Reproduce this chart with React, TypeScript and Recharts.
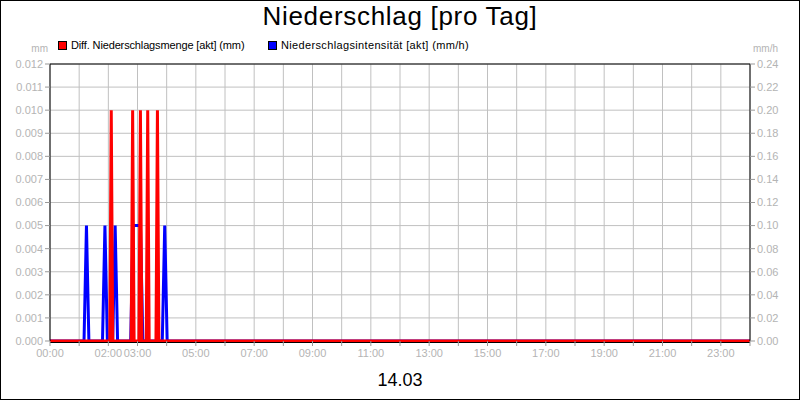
import { ComposedChart, Line, XAxis, YAxis, CartesianGrid, ReferenceLine } from "recharts";

// Diff. Niederschlagsmenge [akt] (mm) – minutes since 00:00 / value
const mengeMinutes = [0, 123, 126, 129, 167, 170, 173, 183, 186, 189, 198, 201, 204, 218, 221, 224, 1440];
const mengeValues = [0, 0, 0.01, 0, 0, 0.01, 0, 0, 0.01, 0, 0, 0.01, 0, 0, 0.01, 0, 0];

// Niederschlagsintensität [akt] (mm/h)
const intensMinutes = [0, 70, 75, 80, 108, 113, 118, 129, 134, 139, 166, 171, 186, 191, 231, 236, 241, 1440];
const intensValues = [0, 0, 0.1, 0, 0, 0.1, 0, 0, 0.1, 0, 0, 0.1, 0.1, 0, 0, 0.1, 0, 0];

// axis ticks
const hourTicks = [
  0, 60, 120, 180, 240, 300, 360, 420, 480, 540, 600, 660, 720,
  780, 840, 900, 960, 1020, 1080, 1140, 1200, 1260, 1320, 1380, 1440,
];
const labelledTicks = [0, 120, 180, 300, 420, 540, 660, 780, 900, 1020, 1140, 1260, 1380];
const mmTicks = [0, 0.001, 0.002, 0.003, 0.004, 0.005, 0.006, 0.007, 0.008, 0.009, 0.01, 0.011, 0.012];
const mmhTicks = [0, 0.02, 0.04, 0.06, 0.08, 0.1, 0.12, 0.14, 0.16, 0.18, 0.2, 0.22, 0.24];

const FONT = "'Liberation Sans', Arial, sans-serif";
const TICK = { fill: "#b4b4b4", fontSize: 11, fontFamily: FONT };
const GRID = "#c0c0c0";

const mengeData = mengeMinutes.map((t, i) => ({ t, v: mengeValues[i] }));
const intensData = intensMinutes.map((t, i) => ({ t, v: intensValues[i] }));

// only some hours get a label, the rest just a tick mark
function hhmm(m: number) {
  if (!labelledTicks.includes(m)) return "";
  const h = Math.floor(m / 60);
  return `${String(h).padStart(2, "0")}:00`;
}

function LegendItem({ color, label, left, spacing }: { color: string; label: string; left: number; spacing: number }) {
  return (
    <div style={{ position: "absolute", left, top: 39, display: "flex", alignItems: "center", height: 12 }}>
      <div style={{ width: 7, height: 7, background: color, border: "1px solid #000", marginRight: 4 }} />
      <span style={{ fontSize: 11, fontFamily: FONT, color: "#000", letterSpacing: spacing }}>{label}</span>
    </div>
  );
}

export default function App() {
  return (
    <div style={{ position: "relative", width: 800, height: 400, background: "#fff" }}>
      <style>{`body{margin:0}`}</style>

      <ComposedChart width={800} height={400} margin={{ top: 64, right: 0, bottom: 39, left: 0 }}>
        <CartesianGrid stroke={GRID} yAxisId="left" />
        <XAxis
          dataKey="t"
          type="number"
          domain={[0, 1440]}
          ticks={hourTicks}
          interval={0}
          tickFormatter={hhmm}
          tick={TICK}
          tickSize={5}
          tickMargin={3}
          height={20}
          axisLine={{ stroke: "#000", transform: "translate(0,1.5)" }}
          tickLine={{ stroke: "#999" }}
        />
        <YAxis
          yAxisId="left"
          domain={[0, 0.012]}
          ticks={mmTicks}
          interval={0}
          tickFormatter={(v: number) => v.toFixed(3)}
          tick={TICK}
          tickSize={5}
          tickMargin={2}
          width={50}
          axisLine={{ stroke: "#000" }}
          tickLine={{ stroke: "#999" }}
        />
        <YAxis
          yAxisId="right"
          orientation="right"
          domain={[0, 0.24]}
          ticks={mmhTicks}
          interval={0}
          tickFormatter={(v: number) => v.toFixed(2)}
          tick={TICK}
          tickSize={5}
          tickMargin={2}
          width={50}
          axisLine={{ stroke: "#000" }}
          tickLine={{ stroke: "#999" }}
        />
        <ReferenceLine yAxisId="left" y={0.012} stroke="#000" />

        {/* blue under red, as in the original */}
        <Line
          yAxisId="right"
          data={intensData}
          dataKey="v"
          stroke="#0000ff"
          strokeWidth={3}
          dot={false}
          activeDot={false}
          isAnimationActive={false}
        />
        <Line
          yAxisId="left"
          data={mengeData}
          dataKey="v"
          stroke="#ff0000"
          strokeWidth={3}
          dot={false}
          activeDot={false}
          isAnimationActive={false}
        />
      </ComposedChart>

      <div
        style={{
          position: "absolute",
          top: 1,
          left: 0,
          width: 800,
          textAlign: "center",
          fontFamily: FONT,
          fontSize: 26,
          letterSpacing: 0.7,
          lineHeight: "30px",
        }}
      >
        Niederschlag [pro Tag]
      </div>
      <LegendItem color="#ff0000" label="Diff. Niederschlagsmenge [akt] (mm)" left={58} spacing={-0.14} />
      <LegendItem color="#0000ff" label="Niederschlagsintensität [akt] (mm/h)" left={268} spacing={0.35} />
      <div style={{ position: "absolute", top: 43, left: 0, width: 48, textAlign: "right", fontFamily: FONT, fontSize: 10, color: "#b4b4b4" }}>mm</div>
      <div style={{ position: "absolute", top: 43, left: 753, fontFamily: FONT, fontSize: 10, color: "#b4b4b4" }}>mm/h</div>
      <div style={{ position: "absolute", top: 369, left: 0, width: 800, textAlign: "center", fontFamily: FONT, fontSize: 18, lineHeight: "22px" }}>
        14.03
      </div>
      <div style={{ position: "absolute", inset: 0, border: "1px solid #000", pointerEvents: "none" }} />
    </div>
  );
}
